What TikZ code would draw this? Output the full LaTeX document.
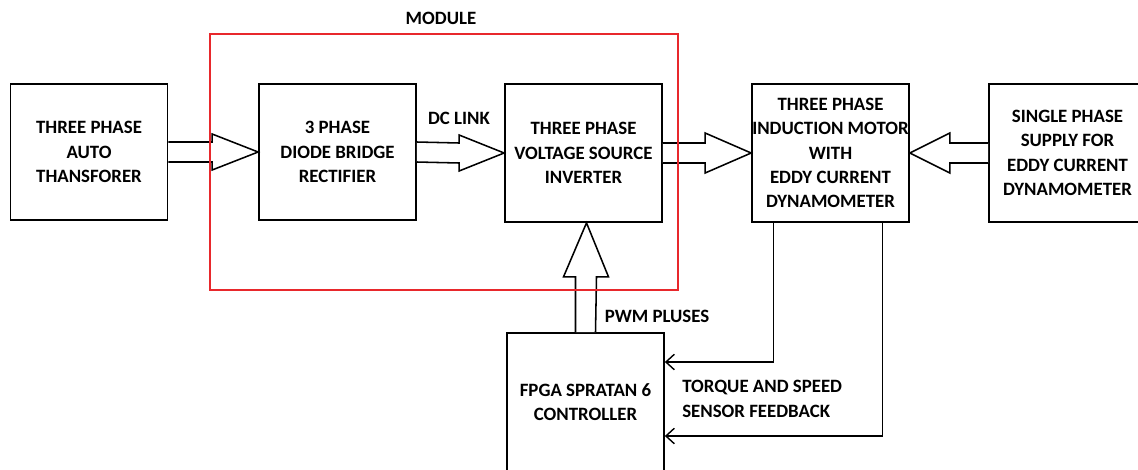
\documentclass[tikz,border=0pt]{standalone}
\usepackage{fontspec}
\setmainfont{Carlito}
\usepackage{tikz}
\usetikzlibrary{positioning, arrows.meta, calc}
\definecolor{modulered}{RGB}{232,40,44}

\begin{document}
\begin{tikzpicture}[
    x=0.025cm, y=-0.025cm,
    block/.style={rectangle, draw, line width=1.2pt, minimum width=3.925cm, minimum height=3.45cm, align=center, inner sep=0pt, font=\fontsize{13.4}{17.3}\selectfont\bfseries},
    lbl/.style={align=left, inner sep=0pt, font=\fontsize{13.4}{17.3}\selectfont\bfseries},
    bigarrow/.style={draw, line width=1.1pt, line join=miter, fill=white},
    fbline/.style={draw, line width=1pt, -{Straight Barb[length=6pt, width=11pt]}},
    modulebox/.style={draw=modulered, line width=1pt}
]
\useasboundingbox (0,0) rectangle (1138,469);

% blocks
\node[block, minimum height=3.4cm] (trans) at (89,152) {THREE PHASE\\AUTO\\THANSFORER};
\node[block, minimum height=3.4cm] (rect) at (337.5,152) {3 PHASE\\DIODE BRIDGE\\RECTIFIER};
\node[block] (inv) at (583.5,153) {THREE PHASE\\VOLTAGE SOURCE\\INVERTER};
\node[block] (motor) at (830.5,153) {THREE PHASE\\INDUCTION MOTOR\\WITH\\EDDY CURRENT\\DYNAMOMETER};
\node[block] (single) at (1067.5,153) {SINGLE PHASE\\SUPPLY FOR\\EDDY CURRENT\\DYNAMOMETER};
\node[block] (fpga) at (585.5,402) {FPGA SPRATAN 6\\CONTROLLER};

% labels
\node[lbl] (dclink) at (459,118) {DC LINK};
\node[lbl] (pwm) at (657,316) {PWM PLUSES};
\node[lbl, anchor=west] (fbtext) at (682,399) {TORQUE AND SPEED\\SENSOR FEEDBACK};

% block arrows
\draw[bigarrow] ($(trans.east)+(0,-10)$) -- ($(rect.west)+(-46,-10)$) -- ++(0,-8) -- (rect.west) -- ++(-46,18) -- ++(0,-8) -- ($(trans.east)+(0,10)$);
\draw[bigarrow] ($(rect.east)+(0,-10)$) -- ($(inv.west)+(-45,-10)$) -- ++(0,-8) -- (inv.west) -- ++(-45,18) -- ++(0,-8) -- ($(rect.east)+(0,10)$);
\draw[bigarrow] ($(inv.east)+(0,-10)$) -- ($(motor.west)+(-46,-10)$) -- ++(0,-10) -- (motor.west) -- ++(-46,20) -- ++(0,-10) -- ($(inv.east)+(0,10)$);
\draw[bigarrow] ($(single.west)+(0,-10)$) -- ($(motor.east)+(40,-10)$) -- ++(0,-10) -- (motor.east) -- ++(40,20) -- ++(0,-10) -- ($(single.west)+(0,10)$);
\draw[bigarrow] ($(fpga.north)+(-10,0)$) -- ($(inv.south)+(-8,54)$) -- ++(-12,0) -- ($(inv.south)+(3,0)$) -- ($(inv.south)+(25,54)$) -- ++(-12,0) -- ($(fpga.north)+(10,0)$);

% module frame
\draw[modulebox] (210,34) rectangle (678,290);
\node[lbl] (modlbl) at (441,18) {MODULE};

% feedback lines
\draw[fbline] ($(motor.south)+(-57,0)$) |- ($(fpga.east)+(0,-40)$);
\draw[fbline] ($(motor.south)+(52,0)$) |- ($(fpga.east)+(0,34)$);
\end{tikzpicture}
\end{document}
